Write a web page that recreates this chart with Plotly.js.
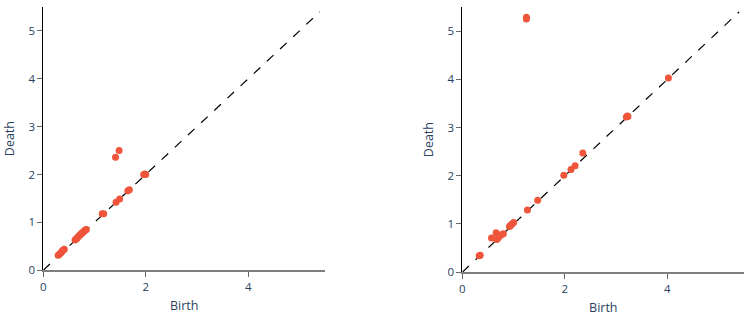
<!DOCTYPE html>
<html>
<head>
<meta charset="utf-8">
<script src="https://cdn.plot.ly/plotly-3.0.1.min.js"></script>
<style>html,body{margin:0;padding:0;background:#fff;}#chart{width:747px;height:317px;}</style>
</head>
<body>
<div id="chart"></div>
<script>
// Left diagram
const birthLeft = [0.29, 0.31, 0.33, 0.35, 0.37, 0.39, 0.41, 0.62, 0.64, 0.66, 0.68, 0.70, 0.72, 0.74, 0.76, 0.78, 0.80, 0.82, 0.84, 1.15, 1.18, 1.42, 1.49, 1.65, 1.68, 1.96, 1.98, 2.00, 1.41, 1.48];
const deathLeft = [0.31, 0.33, 0.35, 0.37, 0.40, 0.42, 0.44, 0.63, 0.65, 0.67, 0.70, 0.72, 0.74, 0.76, 0.78, 0.80, 0.82, 0.84, 0.85, 1.18, 1.18, 1.42, 1.49, 1.66, 1.68, 2.00, 2.01, 2.00, 2.36, 2.50];
// Right diagram
const birthRight = [0.33, 0.35, 0.57, 0.66, 0.67, 0.70, 0.73, 0.77, 0.80, 0.92, 0.94, 0.97, 1.00, 1.27, 1.47, 1.98, 2.12, 2.20, 2.35, 3.20, 3.22, 3.23, 4.02, 1.25, 1.25];
const deathRight = [0.34, 0.35, 0.71, 0.82, 0.68, 0.71, 0.75, 0.78, 0.80, 0.95, 0.97, 1.00, 1.03, 1.29, 1.49, 2.01, 2.13, 2.21, 2.47, 3.22, 3.24, 3.23, 4.03, 5.25, 5.29];
const diagonal = [0, 5.4];
const axisRange = [0, 5.5];
const tickValues = [0, 1, 2, 3, 4, 5];

const red = '#EF553B';
const traces = [
  {x: diagonal, y: diagonal, mode: 'lines', line: {dash: 'dash', width: 1.2, color: 'black'}, xaxis: 'x', yaxis: 'y', showlegend: false, hoverinfo: 'none'},
  {x: birthLeft, y: deathLeft, mode: 'markers', marker: {color: red, size: 7}, xaxis: 'x', yaxis: 'y', showlegend: false},
  {x: diagonal, y: diagonal, mode: 'lines', line: {dash: 'dash', width: 1.2, color: 'black'}, xaxis: 'x2', yaxis: 'y2', showlegend: false, hoverinfo: 'none'},
  {x: birthRight, y: deathRight, mode: 'markers', marker: {color: red, size: 7}, xaxis: 'x2', yaxis: 'y2', showlegend: false}
];

function xax(domain, anchor) {
  return {domain: domain, anchor: anchor, range: axisRange, autorange: false, type: 'linear',
    title: {text: 'Birth', font: {size: 12.5, color: '#2a3f5f'}, standoff: 8},
    ticks: 'outside', ticklen: 5, tickcolor: '#666', dtick: 2, tick0: 0,
    showline: true, linecolor: '#7f7f7f', linewidth: 2, zeroline: false,
    showgrid: false, tickfont: {size: 11.5, color: '#2a3f5f'}, automargin: false};
}
function yax(domain, anchor) {
  return {domain: domain, anchor: anchor, range: axisRange, autorange: false, type: 'linear',
    title: {text: 'Death', font: {size: 12.5, color: '#2a3f5f'}, standoff: 11},
    ticks: 'outside', ticklen: 5, tickcolor: '#666', tickvals: tickValues,
    showline: true, linecolor: 'black', linewidth: 1, zeroline: false,
    showgrid: false, tickfont: {size: 11.5, color: '#2a3f5f'}, automargin: false};
}

const layout = {
  width: 747, height: 317,
  margin: {l: 0, r: 0, t: 0, b: 0},
  paper_bgcolor: 'white', plot_bgcolor: 'white',
  font: {family: '"Open Sans", verdana, arial, sans-serif', color: '#2a3f5f'},
  showlegend: false,
  xaxis: xax([43.3/747, 325/747], 'y'),
  yaxis: yax([1 - 270.2/317, 1 - 7/317], 'x'),
  xaxis2: xax([462.3/747, 744.3/747], 'y2'),
  yaxis2: yax([1 - 272.2/317, 1 - 7/317], 'x2')
};

Plotly.newPlot('chart', traces, layout, {displayModeBar: false, staticPlot: true});
</script>
</body>
</html>
